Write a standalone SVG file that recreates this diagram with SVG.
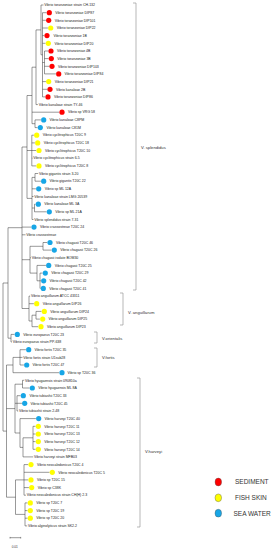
<svg xmlns="http://www.w3.org/2000/svg" width="280" height="550" viewBox="0 0 280 550">
<style>
.t{font-family:"Liberation Sans",Arial,sans-serif;font-size:3.5px;fill:#222}
.cl{font-family:"Liberation Sans",Arial,sans-serif;font-size:4.2px;fill:#333}
.lg{font-family:"Liberation Sans",Arial,sans-serif;font-size:6.5px;fill:#333}
.br{fill:none;stroke:#999;stroke-width:0.7}
.R{fill:#ff0000}.Y{fill:#ffff00}.B{fill:#17a6e6}
</style>
<rect width="280" height="550" fill="#fff"/>
<g id="connectors" fill="none" stroke="#333" stroke-width="0.5">
<path d="M44.5 51V73.9M44.5 51H48.2M44.5 58.6H48.5M44.5 66.3H49.2M44.5 73.9H55.9
M42.5 12.7V96.9M42.5 12.7H46.5M42.5 20.3H45.9M42.5 28H47.9M42.5 35.6H44.2M42.5 43.3H45.5M42.5 62.5H44.5M42.5 81.6H45.9M42.5 89.3H47.2M42.5 96.9H45.2
M41 5V54.8M41 5H43.5M41 54.8H42.5
M36 29.9V104.6M36 29.9H41M36 104.6H37.9
M35 119.9V127.6M35 119.9H40.9M35 127.6H37.5
M32 67.2V123.7M32 67.2H36M32 112.2H59.2M32 123.7H35
M31.8 135.2V165.9M31.8 135.2H33.9M31.8 142.9H34.9M31.8 150.5H36.2M31.8 158.2H32.5M31.8 165.9H36.2
M35 173.5V181.2M35 173.5H38.2M35 181.2H40.9
M34.5 204.2V211.8M34.5 204.2H35.5M34.5 211.8H46.5
M32 177.4V219.5M32 177.4H35M32 188.8H35.9M32 196.5H33.5M32 208H34.5M32 219.5H33.5
M27 95.5V198.4M27 95.5H32M27 150.5H31.8M27 198.4H32
M43 242.5V250.1M43 242.5H47.2M43 250.1H51.5
M40 273.1V288.4M40 273.1H42.5M40 280.8H40.9M40 288.4H40.5
M37 265.4V280.8M37 265.4H45.9M37 280.8H40
M30 246.3V273.1M30 246.3H43M30 257.8H30.9M30 273.1H37
M36 311.4V319.1M36 311.4H41.5M36 319.1H39.9
M32 315.2V326.7M32 315.2H36M32 326.7H38.2
M29 296.1V321M29 296.1H30.2M29 303.7H33.9M29 321H32
M22 147V308.5M22 147H27M22 227.1H31.2M22 234.8H25.5M22 259.7H30M22 308.5H29
M11 334.4V342M11 334.4H14.5M11 342H11.9
M8 227.7V338.2M8 227.7H22M8 338.2H11
M20 349.7V365M20 349.7H25.9M20 357.4H22.5M20 365H23.9
M13 357.4V372.7M13 357.4H20M13 372.7H59.2
M22.5 380.3V388M22.5 380.3H24.2M22.5 388H29.5
M17 395.7V411M17 395.7H20.5M17 403.3H21.9M17 411H18.2
M33 426.3V449.3M33 426.3H35.5M33 434H35.5M33 441.6H35.5M33 449.3H35.5
M23 437.8V456.9M23 437.8H33M23 456.9H33.2
M20 418.6V447.4M20 418.6H35.9M20 447.4H23
M15 384.2V433M15 384.2H22.5M15 403.3H17M15 433H20
M24 464.6V495.2M24 464.6H28.2M24 472.3H49.5M24 479.9H28.2M24 487.6H28.9M24 495.2H25.9
M25 502.9V525.9M25 502.9H27.5M25 510.6H27.5M25 518.2H27.5M25 525.9H27.2
M15.5 479.9V514.4M15.5 479.9H24M15.5 514.4H25
M6.5 365V497.2M6.5 365H13M6.5 408.6H15M6.5 497.2H15.5
M3 283V431.1M3 283H8M3 431.1H6.5"/>
</g>
<g id="leaf1"><text class="t" x="44.3" y="6.2">Vibrio toranzoniae strain CH-132</text></g>
<g id="leaf2"><circle class="R" cx="49.3" cy="12.7" r="2.6"/><text class="t" x="55.3" y="13.9">Vibrio toranzoniae DIP87</text></g>
<g id="leaf3"><circle class="R" cx="48.7" cy="20.3" r="2.6"/><text class="t" x="54.7" y="21.5">Vibrio toranzoniae DIP101</text></g>
<g id="leaf4"><circle class="Y" cx="50.7" cy="28" r="2.6"/><text class="t" x="56.7" y="29.2">Vibrio toranzoniae DIP22</text></g>
<g id="leaf5"><circle class="R" cx="47" cy="35.6" r="2.6"/><text class="t" x="53.5" y="36.8">Vibrio toranzoniae 1B</text></g>
<g id="leaf6"><circle class="Y" cx="48.3" cy="43.3" r="2.6"/><text class="t" x="54.5" y="44.5">Vibrio toranzoniae DIP20</text></g>
<g id="leaf7"><circle class="R" cx="51" cy="51" r="2.6"/><text class="t" x="57" y="52.2">Vibrio toranzoniae 4B</text></g>
<g id="leaf8"><circle class="R" cx="51.3" cy="58.6" r="2.6"/><text class="t" x="57.3" y="59.8">Vibrio toranzoniae 3B</text></g>
<g id="leaf9"><circle class="R" cx="52" cy="66.3" r="2.6"/><text class="t" x="58" y="67.5">Vibrio toranzoniae DIP103</text></g>
<g id="leaf10"><circle class="R" cx="58.7" cy="73.9" r="2.6"/><text class="t" x="64.5" y="75.1">Vibrio toranzoniae DIP84</text></g>
<g id="leaf11"><circle class="Y" cx="48.7" cy="81.6" r="2.6"/><text class="t" x="54.7" y="82.8">Vibrio toranzoniae DIP21</text></g>
<g id="leaf12"><circle class="R" cx="50" cy="89.3" r="2.6"/><text class="t" x="56" y="90.5">Vibrio kanaloae 2B</text></g>
<g id="leaf13"><circle class="R" cx="48" cy="96.9" r="2.6"/><text class="t" x="54" y="98.1">Vibrio toranzoniae DIP86</text></g>
<g id="leaf14"><text class="t" x="38.7" y="105.8">Vibrio kanaloae strain TY-46</text></g>
<g id="leaf15"><circle class="R" cx="62" cy="112.2" r="2.6"/><text class="t" x="68" y="113.4">Vibrio sp VRG 58</text></g>
<g id="leaf16"><circle class="B" cx="43.7" cy="119.9" r="2.6"/><text class="t" x="49.5" y="121.1">Vibrio kanaloae C8PM</text></g>
<g id="leaf17"><circle class="B" cx="40.3" cy="127.6" r="2.6"/><text class="t" x="46.5" y="128.8">Vibrio kanaloae C81M</text></g>
<g id="leaf18"><circle class="Y" cx="36.7" cy="135.2" r="2.6"/><text class="t" x="42.7" y="136.4">Vibrio cyclitrophicus T20C 9</text></g>
<g id="leaf19"><circle class="Y" cx="37.7" cy="142.9" r="2.6"/><text class="t" x="43.7" y="144.1">Vibrio cyclitrophicus T20C 18</text></g>
<g id="leaf20"><circle class="Y" cx="39" cy="150.5" r="2.6"/><text class="t" x="45" y="151.7">Vibrio cyclitrophicus T20C 10</text></g>
<g id="leaf21"><text class="t" x="33.3" y="159.4">Vibrio cyclitrophicus strain 6-5</text></g>
<g id="leaf22"><circle class="Y" cx="39" cy="165.9" r="2.6"/><text class="t" x="45" y="167.1">Vibrio cyclitrophicus T20C 8</text></g>
<g id="leaf23"><text class="t" x="39" y="174.7">Vibrio gigantis strain 3-20</text></g>
<g id="leaf24"><circle class="B" cx="43.7" cy="181.2" r="2.6"/><text class="t" x="49.5" y="182.4">Vibrio gigantis T20C 22</text></g>
<g id="leaf25"><circle class="B" cx="38.7" cy="188.8" r="2.6"/><text class="t" x="44.7" y="190">Vibrio sp ML 12A</text></g>
<g id="leaf26"><text class="t" x="34.3" y="197.7">Vibrio kanaloae strain LMG 20539</text></g>
<g id="leaf27"><circle class="B" cx="38.3" cy="204.2" r="2.6"/><text class="t" x="44.3" y="205.4">Vibrio kanaloae ML 3A</text></g>
<g id="leaf28"><circle class="B" cx="49.3" cy="211.8" r="2.6"/><text class="t" x="55.3" y="213">Vibrio sp ML 21A</text></g>
<g id="leaf29"><text class="t" x="34.3" y="220.7">Vibrio splendidus strain 7-31</text></g>
<g id="leaf30"><circle class="B" cx="34" cy="227.1" r="2.6"/><text class="t" x="40" y="228.3">Vibrio crassostreae T20C 24</text></g>
<g id="leaf31"><text class="t" x="26.3" y="236">Vibrio crassostreae</text></g>
<g id="leaf32"><circle class="B" cx="50" cy="242.5" r="2.6"/><text class="t" x="56" y="243.7">Vibrio chagasii T20C 46</text></g>
<g id="leaf33"><circle class="B" cx="54.3" cy="250.1" r="2.6"/><text class="t" x="60.3" y="251.3">Vibrio chagasii T20C 26</text></g>
<g id="leaf34"><text class="t" x="31.7" y="259">Vibrio chagasii isolate BOM30</text></g>
<g id="leaf35"><circle class="B" cx="48.7" cy="265.4" r="2.6"/><text class="t" x="54.7" y="266.6">Vibrio chagasii T20C 25</text></g>
<g id="leaf36"><circle class="B" cx="45.3" cy="273.1" r="2.6"/><text class="t" x="51.3" y="274.3">Vibrio chagasii T20C 29</text></g>
<g id="leaf37"><circle class="B" cx="43.7" cy="280.8" r="2.6"/><text class="t" x="49.5" y="282">Vibrio chagasii T20C 42</text></g>
<g id="leaf38"><circle class="B" cx="43.3" cy="288.4" r="2.6"/><text class="t" x="49.3" y="289.6">Vibrio chagasii T20C 41</text></g>
<g id="leaf39"><text class="t" x="31" y="297.3">Vibrio anguillarum ATCC 43311</text></g>
<g id="leaf40"><circle class="Y" cx="36.7" cy="303.7" r="2.6"/><text class="t" x="42.7" y="304.9">Vibrio anguillarum DIP26</text></g>
<g id="leaf41"><circle class="Y" cx="44.3" cy="311.4" r="2.6"/><text class="t" x="50.3" y="312.6">Vibrio anguillarum DIP24</text></g>
<g id="leaf42"><circle class="Y" cx="42.7" cy="319.1" r="2.6"/><text class="t" x="48.5" y="320.3">Vibrio anguillarum DIP25</text></g>
<g id="leaf43"><circle class="Y" cx="41" cy="326.7" r="2.6"/><text class="t" x="47" y="327.9">Vibrio anguillarum DIP23</text></g>
<g id="leaf44"><circle class="B" cx="17.3" cy="334.4" r="2.6"/><text class="t" x="23.3" y="335.6">Vibrio europaeus T20C 23</text></g>
<g id="leaf45"><text class="t" x="12.7" y="343.2">Vibrio europaeus strain PP-638</text></g>
<g id="leaf46"><circle class="B" cx="28.7" cy="349.7" r="2.6"/><text class="t" x="34.5" y="350.9">Vibrio fortis T20C 35</text></g>
<g id="leaf47"><text class="t" x="23.3" y="358.6">Vibrio fortis strain U1sub28</text></g>
<g id="leaf48"><circle class="B" cx="26.7" cy="365" r="2.6"/><text class="t" x="32.5" y="366.2">Vibrio fortis T20C 47</text></g>
<g id="leaf49"><circle class="B" cx="62" cy="372.7" r="2.6"/><text class="t" x="67.5" y="373.9">Vibrio sp T20C 36</text></g>
<g id="leaf50"><text class="t" x="25" y="381.5">Vibrio hyugaensis strain 090810a</text></g>
<g id="leaf51"><circle class="B" cx="32.3" cy="388" r="2.6"/><text class="t" x="38.3" y="389.2">Vibrio hyugaensis ML 8A</text></g>
<g id="leaf52"><circle class="B" cx="23.3" cy="395.7" r="2.6"/><text class="t" x="29.5" y="396.9">Vibrio tubiashii T20C 33</text></g>
<g id="leaf53"><circle class="B" cx="24.7" cy="403.3" r="2.6"/><text class="t" x="30.5" y="404.5">Vibrio tubiashii T20C 45</text></g>
<g id="leaf54"><text class="t" x="19" y="412.2">Vibrio tubiashii strain 2-48</text></g>
<g id="leaf55"><circle class="B" cx="38.7" cy="418.6" r="2.6"/><text class="t" x="44.5" y="419.8">Vibrio harveyi T20C 40</text></g>
<g id="leaf56"><circle class="Y" cx="38.3" cy="426.3" r="2.6"/><text class="t" x="44.3" y="427.5">Vibrio harveyi T20C 11</text></g>
<g id="leaf57"><circle class="Y" cx="38.3" cy="434" r="2.6"/><text class="t" x="44.3" y="435.2">Vibrio harveyi T20C 13</text></g>
<g id="leaf58"><circle class="Y" cx="38.3" cy="441.6" r="2.6"/><text class="t" x="44.3" y="442.8">Vibrio harveyi T20C 12</text></g>
<g id="leaf59"><circle class="Y" cx="38.3" cy="449.3" r="2.6"/><text class="t" x="44.3" y="450.5">Vibrio harveyi T20C 14</text></g>
<g id="leaf60"><text class="t" x="34" y="458.1">Vibrio harveyi strain MFB03</text></g>
<g id="leaf61"><circle class="Y" cx="31" cy="464.6" r="2.6"/><text class="t" x="37" y="465.8">Vibrio neocaledonicus T20C 4</text></g>
<g id="leaf62"><circle class="Y" cx="52.3" cy="472.3" r="2.6"/><text class="t" x="58.3" y="473.5">Vibrio neocaledonicus T20C 5</text></g>
<g id="leaf63"><circle class="Y" cx="31" cy="479.9" r="2.6"/><text class="t" x="37" y="481.1">Vibrio sp T20C 15</text></g>
<g id="leaf64"><circle class="Y" cx="31.7" cy="487.6" r="2.6"/><text class="t" x="37.7" y="488.8">Vibrio sp C38K</text></g>
<g id="leaf65"><text class="t" x="26.7" y="496.4">Vibrio neocaledonicus strain CH(H) 2.3</text></g>
<g id="leaf66"><circle class="Y" cx="30.3" cy="502.9" r="2.6"/><text class="t" x="36.3" y="504.1">Vibrio sp T20C 7</text></g>
<g id="leaf67"><circle class="Y" cx="30.3" cy="510.6" r="2.6"/><text class="t" x="36.3" y="511.8">Vibrio sp T20C 19</text></g>
<g id="leaf68"><circle class="Y" cx="30.3" cy="518.2" r="2.6"/><text class="t" x="36.3" y="519.4">Vibrio sp T20C 20</text></g>
<g id="leaf69"><text class="t" x="28" y="527.1">Vibrio alginolyticus strain SK2.2</text></g>
<g id="clade-splendidus"><path class="br" d="M133 3H136V290H133"/><text class="cl" x="141" y="149.2">V. splendidus</text></g>
<g id="clade-anguillarum"><path class="br" d="M120 293H123V325H120"/><text class="cl" x="128" y="314.2">V. anguillarum</text></g>
<g id="clade-orientalis"><path class="br" d="M94 332H97V343H94"/><text class="cl" x="102" y="340.2">V.orientalis</text></g>
<g id="clade-fortis"><path class="br" d="M94 348H97V367H94"/><text class="cl" x="102" y="359.2">V.fortis</text></g>
<g id="clade-harveyi"><path class="br" d="M137 378H140V527H137"/><text class="cl" x="145" y="453.2">V.harveyi</text></g>
<g id="legend">
<ellipse cx="218.3" cy="482" rx="3.3" ry="3.9" fill="#ff0000" stroke="#555" stroke-width="0.4"/>
<text class="lg" x="235" y="484.3">SEDIMENT</text>
<ellipse cx="218.3" cy="497.8" rx="3.3" ry="3.9" fill="#ffff00" stroke="#555" stroke-width="0.4"/>
<text class="lg" x="235" y="500.1">FISH SKIN</text>
<ellipse cx="218.3" cy="513.2" rx="3.3" ry="3.9" fill="#17a6e6" stroke="#555" stroke-width="0.4"/>
<text class="lg" x="233.5" y="515.5">SEA WATER</text>
</g>
<g id="scale-bar">
<path d="M10 537.7H20.7M10 536.9V538.5M20.7 536.9V538.5" fill="none" stroke="#333" stroke-width="0.5"/>
<text x="11.7" y="547.5" font-family="Liberation Sans, Arial, sans-serif" font-size="3.2" fill="#333">0.01</text>
</g>
</svg>
